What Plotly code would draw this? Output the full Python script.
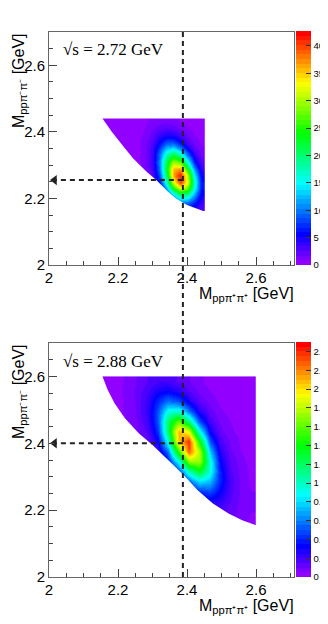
import colorsys
import plotly.graph_objects as go

# ---- values ------------------------------------------------------------------------
# sqrt(s) = 2.72 GeV : bin edges [GeV], rows = M(pp pi- pi-), columns = M(pp pi+ pi+)
x_edges_272 = [2.15, 2.17, 2.19, 2.21, 2.23, 2.25, 2.27, 2.29, 2.31, 2.33, 2.35, 2.37, 2.39, 2.41, 2.43, 2.45]
y_edges_272 = [2.16, 2.18, 2.20, 2.22, 2.24, 2.26, 2.28, 2.30, 2.32, 2.34, 2.36, 2.38, 2.40, 2.42, 2.44]
N = None
z_272 = [
    [N, N, N, N, N, N, N, N, N, 1.9, 3.3, 4.7, 5.1, 4.0, 2.6],
    [N, N, N, N, N, N, N, N, N, 3.3, 6.7, 10.0, 10.2, 7.1, 3.7],
    [N, N, N, N, N, N, N, 1.0, 2.5, 6.4, 13.5, 19.6, 18.4, 11.4, 5.1],
    [N, N, N, N, N, N, 0.7, 1.5, 4.1, 11.3, 23.2, 31.5, 27.3, 15.4, 6.1],
    [N, N, N, N, N, 0.5, 0.8, 2.0, 6.1, 16.6, 32.3, 40.6, 32.5, 16.8, 6.1],
    [N, N, N, N, 0.3, 0.5, 1.0, 2.6, 8.1, 20.6, 36.4, 41.6, 30.5, 14.6, 5.1],
    [N, N, N, 0.2, 0.3, 0.6, 1.2, 3.3, 9.7, 22.4, 35.4, 36.2, 23.8, 10.5, 3.6],
    [N, N, 0.1, 0.2, 0.4, 0.7, 1.4, 3.7, 10.1, 21.2, 29.9, 27.2, 16.3, 6.7, 2.4],
    [N, 0.1, 0.1, 0.2, 0.4, 0.7, 1.5, 3.6, 9.3, 17.5, 22.0, 18.0, 9.9, 4.0, 1.5],
    [N, 0.1, 0.1, 0.2, 0.4, 0.7, 1.4, 3.4, 7.6, 12.7, 14.2, 10.6, 5.5, 2.3, 1.0],
    [0.1, 0.1, 0.1, 0.2, 0.4, 0.7, 1.3, 2.8, 5.5, 8.2, 8.3, 5.7, 2.9, 1.4, 0.7],
    [0.1, 0.1, 0.1, 0.2, 0.4, 0.6, 1.1, 2.1, 3.7, 4.7, 4.5, 3.0, 1.6, 0.8, 0.5],
    [0.1, 0.1, 0.1, 0.2, 0.3, 0.5, 0.9, 1.6, 2.3, 2.7, 2.3, 1.6, 0.9, 0.6, 0.4],
    [0.1, 0.1, 0.1, 0.2, 0.3, 0.5, 0.7, 1.1, 1.4, 1.5, 1.3, 0.8, 0.6, 0.4, 0.3],
]
# lower-left kinematic edge of the populated region
edge_x_272 = [2.155, 2.182, 2.213, 2.244, 2.283, 2.31, 2.345, 2.368, 2.40, 2.423, 2.447]
edge_y_272 = [2.44, 2.40, 2.36, 2.32, 2.28, 2.256, 2.22, 2.20, 2.18, 2.17, 2.162]

# sqrt(s) = 2.88 GeV
x_edges_288 = [2.15, 2.18, 2.21, 2.24, 2.27, 2.30, 2.33, 2.36, 2.39, 2.42, 2.45, 2.48, 2.51, 2.54, 2.57, 2.60]
y_edges_288 = [2.15, 2.18, 2.21, 2.24, 2.27, 2.30, 2.33, 2.36, 2.39, 2.42, 2.45, 2.48, 2.51, 2.54, 2.57, 2.60]
z_288 = [
    [N, N, N, N, N, N, N, N, N, N, N, 0.12, 0.09, 0.07, 0.04],
    [N, N, N, N, N, N, N, N, N, N, 0.16, 0.16, 0.12, 0.08, 0.05],
    [N, N, N, N, N, N, N, N, N, 0.23, 0.28, 0.24, 0.15, 0.08, 0.05],
    [N, N, N, N, N, N, N, N, 0.26, 0.43, 0.48, 0.33, 0.17, 0.09, 0.05],
    [N, N, N, N, N, N, N, 0.24, 0.52, 0.81, 0.73, 0.40, 0.18, 0.09, 0.04],
    [N, N, N, N, N, N, 0.19, 0.46, 1.01, 1.33, 0.93, 0.40, 0.16, 0.08, 0.04],
    [N, N, N, N, N, 0.13, 0.33, 0.89, 1.70, 1.74, 0.94, 0.34, 0.14, 0.07, 0.03],
    [N, N, N, N, 0.09, 0.21, 0.58, 1.50, 2.29, 1.78, 0.76, 0.26, 0.11, 0.05, 0.02],
    [N, N, N, 0.06, 0.12, 0.31, 0.92, 2.04, 2.39, 1.42, 0.51, 0.19, 0.09, 0.04, 0.02],
    [N, N, 0.04, 0.08, 0.16, 0.43, 1.19, 2.09, 1.89, 0.91, 0.31, 0.12, 0.06, 0.03, 0.01],
    [N, 0.02, 0.05, 0.09, 0.20, 0.51, 1.19, 1.62, 1.15, 0.49, 0.19, 0.09, 0.05, 0.02, 0.01],
    [0.01, 0.03, 0.06, 0.11, 0.22, 0.50, 0.92, 0.98, 0.59, 0.26, 0.12, 0.06, 0.03, 0.01, 0.01],
    [0.01, 0.03, 0.06, 0.11, 0.22, 0.41, 0.58, 0.50, 0.29, 0.14, 0.08, 0.04, 0.02, 0.01, 0.01],
    [0.01, 0.03, 0.07, 0.11, 0.19, 0.29, 0.33, 0.26, 0.15, 0.09, 0.05, 0.03, 0.01, 0.01, 0.01],
    [0.02, 0.03, 0.06, 0.10, 0.15, 0.19, 0.19, 0.14, 0.10, 0.06, 0.03, 0.02, 0.01, 0.01, 0.01],
]
edge_x_288 = [2.155, 2.17, 2.19, 2.22, 2.26, 2.30, 2.355, 2.395, 2.43, 2.475, 2.52, 2.56, 2.60]
edge_y_288 = [2.60, 2.56, 2.52, 2.475, 2.43, 2.395, 2.34, 2.30, 2.26, 2.22, 2.19, 2.17, 2.155]

energies = ['2.72', '2.88']
z_max = [42.7, 2.5]
cbar_dtick = [5, 0.2]
m_ppp_peak = 2.388            # vertical dashed line
m_pmm_peak = [2.255, 2.40]    # horizontal dashed arrows
arrow_tip = 2.016             # arrowheads sit just inside the y axis

# ---- style ---------------------------------------------------------------------------
# the page body keeps its default 8px margin, so the figure is sized to the rest of
# the 328x624 window and positions below are given in window pixels
OFF = 8
W, H = 328 - OFF, 624 - OFF
FONT = 'Liberation Sans, Arial, sans-serif'


def root_palette():
    # ROOT "pretty palette" (SetPalette(1)): 50 saturated hues from violet to red
    cols = []
    for i in range(50):
        hue = 0.0 if i == 49 else 280 - (i + 1) * 5.6
        r, g, b = colorsys.hls_to_rgb(hue / 360, 0.5, 1.0)
        cols.append('rgb(%d,%d,%d)' % (round(r * 255), round(g * 255), round(b * 255)))
    scale = []
    for i, c in enumerate(cols):
        scale += [[i / 50, c], [(i + 1) / 50, c]]
    return scale


def px_x(p):
    return (p - OFF) / W


def px_y(p):
    return 1 - (p - OFF) / H


palette = root_palette()
panels = [
    dict(xe=x_edges_272, ye=y_edges_272, z=z_272, ex=edge_x_272, ey=edge_y_272, top=32, bottom=265),
    dict(xe=x_edges_288, ye=y_edges_288, z=z_288, ex=edge_x_288, ey=edge_y_288, top=343, bottom=577),
]

fig = go.Figure()
for i, p in enumerate(panels):
    xa, ya = ('x', 'y') if i == 0 else ('x2', 'y2')
    fig.add_trace(go.Heatmap(
        x=p['xe'], y=p['ye'], z=p['z'], xaxis=xa, yaxis=ya,
        zmin=0, zmax=z_max[i], zsmooth='best', colorscale=palette,
        hoverinfo='skip',
        colorbar=dict(x=px_x(296), xanchor='left', xpad=0, ypad=0, thickness=15,
                      y=px_y(p['top'] - 1), yanchor='top', lenmode='fraction',
                      len=(p['bottom'] - p['top'] + 1) / H, outlinewidth=0,
                      ticks='inside', ticklen=5, tickcolor='#333', dtick=cbar_dtick[i],
                      tickfont=dict(family=FONT, size=9.5, color='black')),
    ))
    # white out everything below the kinematic edge
    lo_x, lo_y = min(p['xe']) - 0.01, min(p['ye']) - 0.01
    mx = p['ex'] + [max(p['xe']) + 0.005, max(p['xe']) + 0.005, lo_x, lo_x, p['ex'][0]]
    my = p['ey'] + [p['ey'][-1], lo_y, lo_y, max(p['ye']) + 0.005, max(p['ye']) + 0.005]
    fig.add_trace(go.Scatter(x=mx, y=my, xaxis=xa, yaxis=ya, mode='lines', fill='toself',
                             fillcolor='white', line=dict(width=0), hoverinfo='skip',
                             showlegend=False))
    # arrowhead of the horizontal dashed line
    fig.add_trace(go.Scatter(x=[arrow_tip], y=[m_pmm_peak[i]], xaxis=xa, yaxis=ya,
                             mode='markers', hoverinfo='skip', showlegend=False,
                             marker=dict(symbol='triangle-left', size=9, color='#222',
                                         line=dict(width=0))))

axis_common = dict(range=[2.0, 2.71], dtick=0.2, tick0=2.0, ticks='inside', ticklen=8,
                   tickcolor='#444', showline=True, linecolor='#666', linewidth=1, mirror=True,
                   showgrid=False, zeroline=False, automargin=False,
                   minor=dict(dtick=0.05, ticks='inside', ticklen=4, tickcolor='#444'),
                   tickfont=dict(family=FONT, size=15, color='black'))
dom_x = [px_x(49), px_x(294)]
layout_axes = {}
for i, p in enumerate(panels):
    sx = '' if i == 0 else '2'
    layout_axes['xaxis' + sx] = dict(axis_common, domain=dom_x, anchor='y' + sx,
                                     ticklabelstandoff=-1)
    layout_axes['yaxis' + sx] = dict(axis_common, range=[2.0, 2.7],
                                     domain=[px_y(p['bottom']), px_y(p['top'])], anchor='x' + sx)

shapes = [dict(type='line', xref='x', yref='paper', x0=m_ppp_peak, x1=m_ppp_peak,
               y0=px_y(577), y1=px_y(29), line=dict(color='#222', width=2, dash='5px,4px'))]
annotations = []
for i, p in enumerate(panels):
    sx = '' if i == 0 else '2'
    shapes.append(dict(type='line', xref='x' + sx, yref='y' + sx, x0=m_ppp_peak, x1=arrow_tip,
                       y0=m_pmm_peak[i], y1=m_pmm_peak[i],
                       line=dict(color='#222', width=2, dash='5px,4px')))
    annotations.append(dict(xref='paper', yref='paper', x=px_x(61), y=px_y(p['top'] + 18),
                            xanchor='left', yanchor='middle', showarrow=False,
                            text='√s = %s GeV' % energies[i],
                            font=dict(family='Liberation Serif, Times New Roman, serif',
                                      size=17, color='black')))
    annotations.append(dict(xref='paper', yref='paper', x=px_x(296), y=px_y(p['bottom'] + 18),
                            xanchor='right', yanchor='top', showarrow=False,
                            text='M<sub>ppπ⁺π⁺</sub> [GeV]',
                            font=dict(family=FONT, size=16, color='black')))
    annotations.append(dict(xref='paper', yref='paper', x=px_x(8), y=px_y(p['top'] - 1),
                            xanchor='left', yanchor='top', showarrow=False, textangle=-90,
                            text='M<sub>ppπ⁻π⁻</sub> [GeV]',
                            font=dict(family=FONT, size=16, color='black')))

fig.update_layout(width=W, height=H, margin=dict(l=0, r=0, t=0, b=0, autoexpand=False),
                  paper_bgcolor='white', plot_bgcolor='white', showlegend=False,
                  shapes=shapes, annotations=annotations, **layout_axes)

fig.write_html("out.html")
